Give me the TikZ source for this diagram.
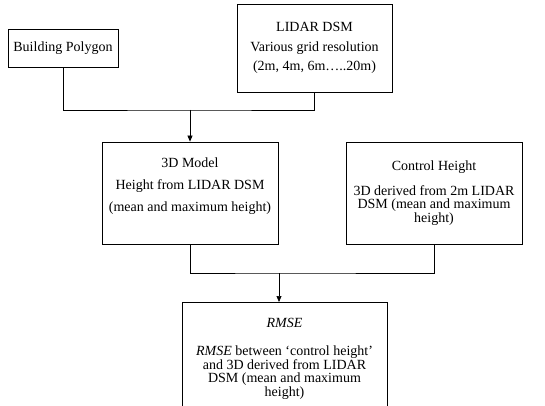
\documentclass[tikz,border=0pt]{standalone}
\usepackage{fontspec}
\setmainfont{Liberation Serif}
\usetikzlibrary{arrows.meta}
\begin{document}
\begin{tikzpicture}[
    x=1pt, y=-1pt,
    font=\fontsize{14}{13.5}\selectfont,
    box/.style={draw, rectangle, align=center, line width=0.8pt, inner sep=2pt},
    link/.style={line width=0.7pt},
    arr/.style={link, -{Triangle[length=6pt,width=5pt]}}
  ]
    \useasboundingbox (0,0) rectangle (545,406);

    %% --- Inputs ---
    \node[box, minimum width=110pt, minimum height=38pt] (poly) at (63,48)
      {Building Polygon};
    \node[box, minimum width=155pt, minimum height=88pt] (dsm) at (314.5,48)
      {LIDAR DSM\\[6pt]
       Various grid resolution\\[6pt]
       (2m, 4m, 6m\ldots..20m)};

    %% --- Middle row ---
    \node[box, minimum width=176pt, minimum height=102pt] (model) at (190,193)
      {3D Model\\[8.5pt]
       Height from LIDAR DSM\\[8.5pt]
       (mean and maximum height)\\[2.5pt]\mbox{}};
    \node[box, minimum width=176pt, minimum height=102pt] (ctrl) at (434,193)
      {Control Height\\[11.5pt]
       3D derived from 2m LIDAR\\
       DSM (mean and maximum\\
       height)};

    %% --- Result ---
    \node[box, minimum width=205pt, minimum height=112pt, anchor=north] (rmse)
      at (284.5,302)
      {\textit{RMSE}\\[15pt]
       \textit{RMSE} between `control height'\\
       and 3D derived from LIDAR\\
       DSM (mean and maximum\\
       height)};

    %% --- Connectors ---
    \coordinate (j1) at (190,110);
    \coordinate (j2) at (279,273);
    \draw[link] (poly.south) |- (j1) -| (dsm.south);
    \draw[arr] (j1) -- (model.north);
    \draw[link] (model.south) |- (j2) -| (ctrl.south);
    \draw[arr] (j2) -- (j2 |- rmse.north);
  \end{tikzpicture}
\end{document}
